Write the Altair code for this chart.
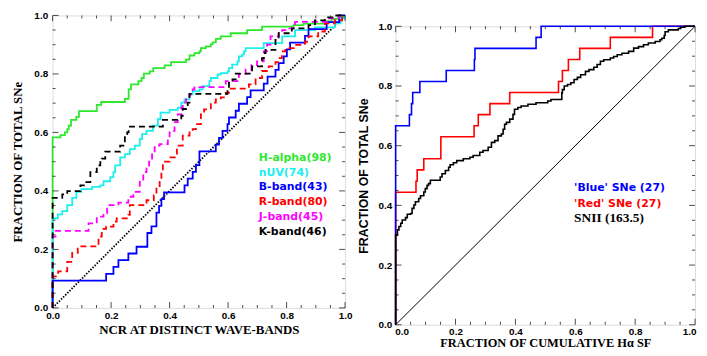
import altair as alt
import pandas as pd

# ---------------- data ----------------
# Left panel: cumulative distributions of NCR values
HALPHA_X = [0, 0, 0.027, 0.042, 0.050, 0.055, 0.063, 0.081, 0.090, 0.151, 0.166, 0.247, 0.260, 0.268,
            0.293, 0.304, 0.312, 0.332, 0.344, 0.383, 0.405, 0.456, 0.468, 0.485, 0.502, 0.507, 0.524,
            0.541, 0.547, 0.558, 0.575, 0.609, 0.665, 0.716, 0.824, 0.858, 0.931, 0.954, 0.976, 1.0]
HALPHA_Y = [0, 0.583, 0.591, 0.600, 0.611, 0.623, 0.643, 0.653, 0.673, 0.694, 0.704, 0.715, 0.747, 0.764,
            0.775, 0.786, 0.801, 0.809, 0.820, 0.829, 0.840, 0.849, 0.863, 0.871, 0.877, 0.888, 0.894,
            0.902, 0.908, 0.920, 0.928, 0.939, 0.950, 0.962, 0.967, 0.972, 0.980, 0.988, 0.995, 1.0]

NUV_X = [0, 0, 0.018, 0.033, 0.050, 0.067, 0.081, 0.098, 0.135, 0.163, 0.174, 0.197, 0.208, 0.214, 0.231,
         0.247, 0.264, 0.281, 0.298, 0.306, 0.321, 0.343, 0.360, 0.369, 0.400, 0.428, 0.440, 0.451, 0.468,
         0.479, 0.502, 0.513, 0.536, 0.541, 0.564, 0.575, 0.598, 0.603, 0.614, 0.632, 0.637, 0.648, 0.654,
         0.660, 0.722, 0.785, 0.829, 0.897, 0.965, 0.985, 1.0]
NUV_Y = [0, 0.306, 0.320, 0.331, 0.351, 0.376, 0.397, 0.406, 0.414, 0.419, 0.433, 0.447, 0.464, 0.487, 0.515,
         0.526, 0.543, 0.555, 0.577, 0.594, 0.605, 0.623, 0.645, 0.668, 0.677, 0.685, 0.702, 0.713, 0.730,
         0.741, 0.747, 0.758, 0.775, 0.786, 0.798, 0.803, 0.809, 0.820, 0.832, 0.843, 0.860, 0.866, 0.877,
         0.888, 0.905, 0.928, 0.950, 0.959, 0.973, 0.990, 1.0]

BBAND_X = [0, 0, 0.183, 0.208, 0.225, 0.259, 0.287, 0.324, 0.338, 0.355, 0.364, 0.372, 0.381, 0.451, 0.462,
           0.479, 0.490, 0.502, 0.558, 0.569, 0.581, 0.598, 0.603, 0.626, 0.637, 0.665, 0.677, 0.722, 0.735,
           0.762, 0.773, 0.790, 0.801, 0.812, 0.863, 0.875, 0.937, 0.980, 1.0]
BBAND_Y = [0, 0.093, 0.116, 0.140, 0.163, 0.186, 0.209, 0.256, 0.279, 0.326, 0.349, 0.372, 0.395, 0.419, 0.442,
           0.465, 0.488, 0.535, 0.558, 0.581, 0.605, 0.628, 0.651, 0.674, 0.698, 0.721, 0.744, 0.767, 0.791,
           0.814, 0.837, 0.860, 0.884, 0.907, 0.930, 0.953, 0.977, 1.0, 1.0]

RBAND_X = [0, 0, 0.019, 0.050, 0.067, 0.086, 0.157, 0.168, 0.183, 0.208, 0.219, 0.259, 0.264, 0.321, 0.346,
           0.355, 0.366, 0.372, 0.377, 0.400, 0.425, 0.445, 0.468, 0.479, 0.490, 0.507, 0.518, 0.541, 0.558,
           0.575, 0.592, 0.603, 0.671, 0.694, 0.716, 0.739, 0.762, 0.773, 0.784, 0.796, 0.829, 0.863, 0.875,
           0.908, 0.931, 0.965, 0.990, 1.0]
RBAND_Y = [0, 0.108, 0.125, 0.157, 0.188, 0.210, 0.244, 0.270, 0.278, 0.295, 0.306, 0.318, 0.351, 0.368, 0.385,
           0.408, 0.431, 0.464, 0.500, 0.515, 0.555, 0.589, 0.600, 0.611, 0.628, 0.662, 0.679, 0.702, 0.713,
           0.720, 0.735, 0.750, 0.764, 0.786, 0.810, 0.826, 0.840, 0.854, 0.877, 0.888, 0.899, 0.910, 0.928,
           0.945, 0.973, 0.983, 1.0, 1.0]

JBAND_X = [0, 0, 0.010, 0.123, 0.151, 0.174, 0.186, 0.225, 0.259, 0.276, 0.298, 0.310, 0.321, 0.330, 0.340,
           0.349, 0.366, 0.394, 0.400, 0.411, 0.417, 0.428, 0.440, 0.445, 0.456, 0.468, 0.479, 0.485, 0.592,
           0.637, 0.660, 0.680, 0.699, 0.722, 0.733, 0.745, 0.773, 0.785, 0.796, 0.829, 0.942, 0.980, 1.0]
JBAND_Y = [0, 0.244, 0.263, 0.289, 0.312, 0.323, 0.351, 0.360, 0.380, 0.397, 0.431, 0.464, 0.476, 0.500, 0.530,
           0.555, 0.560, 0.583, 0.600, 0.605, 0.635, 0.662, 0.685, 0.702, 0.713, 0.730, 0.747, 0.755, 0.775,
           0.800, 0.815, 0.830, 0.843, 0.877, 0.900, 0.928, 0.939, 0.950, 0.956, 0.978, 0.990, 1.0, 1.0]

KBAND_X = [0, 0, 0.033, 0.050, 0.095, 0.112, 0.129, 0.151, 0.163, 0.168, 0.180, 0.231, 0.247, 0.255, 0.260,
           0.377, 0.440, 0.445, 0.462, 0.468, 0.598, 0.603, 0.615, 0.626, 0.682, 0.716, 0.722, 0.728, 0.762,
           0.773, 0.818, 0.875, 0.897, 0.931, 0.970, 1.0]
KBAND_Y = [0, 0.376, 0.388, 0.399, 0.419, 0.430, 0.464, 0.487, 0.498, 0.510, 0.534, 0.555, 0.594, 0.600, 0.620,
           0.643, 0.657, 0.680, 0.702, 0.732, 0.749, 0.770, 0.781, 0.801, 0.826, 0.854, 0.871, 0.882, 0.916,
           0.939, 0.956, 0.967, 0.983, 0.993, 1.0, 1.0]

# Right panel: fraction of cumulative H-alpha SF
BLUE_X = [0, 0, 0.046, 0.053, 0.057, 0.081, 0.169, 0.263, 0.265, 0.469, 0.486, 1.0]
BLUE_Y = [0, 0.667, 0.704, 0.741, 0.778, 0.815, 0.852, 0.889, 0.926, 0.963, 1.0, 1.0]

RED_X = [0, 0, 0.068, 0.072, 0.094, 0.151, 0.262, 0.276, 0.315, 0.381, 0.544, 0.557, 0.577, 0.615, 0.717,
         0.858, 1.0]
RED_Y = [0, 0.444, 0.481, 0.519, 0.556, 0.630, 0.667, 0.704, 0.741, 0.778, 0.815, 0.852, 0.889, 0.926, 0.963,
         1.0, 1.0]

SNII_X = [0, 0, 0.006, 0.011, 0.017, 0.022, 0.033, 0.039, 0.050, 0.055, 0.061, 0.066, 0.077, 0.083, 0.094,
          0.099, 0.105, 0.110, 0.116, 0.149, 0.155, 0.166, 0.177, 0.182, 0.193, 0.204, 0.226, 0.248, 0.259,
          0.281, 0.292, 0.309, 0.320, 0.331, 0.342, 0.353, 0.359, 0.364, 0.370, 0.381, 0.392, 0.397, 0.408,
          0.419, 0.442, 0.469, 0.508, 0.519, 0.555, 0.557, 0.563, 0.574, 0.585, 0.596, 0.607, 0.618, 0.634,
          0.646, 0.662, 0.673, 0.684, 0.695, 0.717, 0.728, 0.740, 0.756, 0.778, 0.795, 0.811, 0.828, 0.844,
          0.867, 0.883, 0.889, 0.897, 0.900, 0.911, 0.944, 0.952, 0.966, 1.0]
SNII_Y = [0, 0.301, 0.318, 0.329, 0.340, 0.351, 0.359, 0.370, 0.373, 0.390, 0.401, 0.412, 0.423, 0.432, 0.445,
          0.456, 0.467, 0.473, 0.484, 0.495, 0.506, 0.517, 0.528, 0.536, 0.543, 0.550, 0.556, 0.561, 0.567,
          0.578, 0.584, 0.595, 0.611, 0.617, 0.633, 0.639, 0.655, 0.672, 0.678, 0.689, 0.705, 0.722, 0.728,
          0.733, 0.739, 0.744, 0.750, 0.755, 0.777, 0.788, 0.800, 0.805, 0.811, 0.822, 0.829, 0.838, 0.849,
          0.855, 0.863, 0.872, 0.883, 0.888, 0.894, 0.899, 0.905, 0.910, 0.916, 0.927, 0.932, 0.938, 0.944,
          0.949, 0.955, 0.960, 0.969, 0.982, 0.988, 0.993, 0.997, 1.0, 1.0]

DIAG = [0.0, 1.0]
TICK_MAJOR = [0.0, 0.2, 0.4, 0.6, 0.8, 1.0]
TICK_MINOR = [0.05, 0.10, 0.15, 0.25, 0.30, 0.35, 0.45, 0.50, 0.55, 0.65, 0.70, 0.75, 0.85, 0.90, 0.95]

LEFT_LABELS = ["H-alpha(98)", "nUV(74)", "B-band(43)", "R-band(80)", "J-band(45)", "K-band(46)"]
RIGHT_LABELS = ["'Blue' SNe (27)", "'Red' SNe (27)", "SNII (163.5)"]

# ---------------- styles ----------------
GREEN, CYAN, BLUE, RED, MAGENTA, BLACK = "#2ee82e", "#1eeeee", "#0000ff", "#ff0000", "#ff00ff", "#000000"
DASH = [6, 4]
SANS = "Liberation Sans"
SERIF = "Liberation Serif"
LEGEND_FONT = "DejaVu Sans"

SCALE = alt.Scale(domain=[0, 1], nice=False, zero=False)


def make_axis(title, tfont, tsize, lpad, tpad, flush=False):
    kw = dict(labelFlush=False)
    if flush:
        kw = dict(labelFlush=True, labelFlushOffset=1)
    return alt.Axis(title=title, values=TICK_MAJOR, format=".1f", ticks=False, domain=False, grid=False,
                    labelFont=SANS, labelFontSize=10, labelFontWeight="bold", labelColor="black",
                    labelPadding=lpad, labelOverlap=False,
                    titleFont=tfont, titleFontSize=tsize, titleFontWeight="bold", titleColor="black",
                    titlePadding=tpad, **kw)


def step_line(xs, ys, color, width, dash=None):
    df = pd.DataFrame({"x": xs, "y": ys, "i": list(range(len(xs)))})
    kw = dict(interpolate="step-after", color=color, strokeWidth=width)
    if dash:
        kw["strokeDash"] = dash
    return alt.Chart(df).mark_line(**kw).encode(
        x=alt.X("x:Q", scale=SCALE),
        y=alt.Y("y:Q", scale=SCALE),
        order="i:Q",
    )


def frame_ticks():
    layers = []
    for vals, L in ((TICK_MAJOR, 6), (TICK_MINOR, 3)):
        base = alt.Chart(pd.DataFrame({"t": vals}))
        layers.append(base.mark_tick(orient="vertical", size=L, thickness=1, color="black", yOffset=-L / 2)
                      .encode(x=alt.X("t:Q", scale=SCALE), y=alt.YDatum(0)))
        layers.append(base.mark_tick(orient="vertical", size=L, thickness=1, color="black", yOffset=L / 2)
                      .encode(x=alt.X("t:Q", scale=SCALE), y=alt.YDatum(1)))
        layers.append(base.mark_tick(orient="horizontal", size=L, thickness=1, color="black", xOffset=L / 2)
                      .encode(y=alt.Y("t:Q", scale=SCALE), x=alt.XDatum(0)))
        layers.append(base.mark_tick(orient="horizontal", size=L, thickness=1, color="black", xOffset=-L / 2)
                      .encode(y=alt.Y("t:Q", scale=SCALE), x=alt.XDatum(1)))
    return layers


def label(text, color, px, py, font=LEGEND_FONT, size=11):
    return alt.Chart(pd.DataFrame({"s": [text]})).mark_text(
        align="left", baseline="middle", font=font, fontSize=size, fontWeight="bold", color=color
    ).encode(x=alt.value(px), y=alt.value(py), text="s:N")


def diag(dash, width, xaxis, yaxis):
    kw = dict(color="black", strokeWidth=width)
    if dash:
        kw["strokeDash"] = dash
    df = pd.DataFrame({"x": DIAG, "y": DIAG})
    return alt.Chart(df).mark_line(**kw).encode(
        x=alt.X("x:Q", scale=SCALE, axis=xaxis), y=alt.Y("y:Q", scale=SCALE, axis=yaxis))


# ---------------- left panel ----------------
left_diag = diag([1.5, 1.5], 1.8,
                 make_axis("NCR AT DISTINCT WAVE-BANDS", SERIF, 13, 3, 3),
                 make_axis("FRACTION OF TOTAL SNe", SERIF, 13, 5, 9))
left_lines = [
    step_line(HALPHA_X, HALPHA_Y, GREEN, 1.8),
    step_line(NUV_X, NUV_Y, CYAN, 1.8),
    step_line(BBAND_X, BBAND_Y, BLUE, 1.8),
    step_line(RBAND_X, RBAND_Y, RED, 1.8, DASH),
    step_line(JBAND_X, JBAND_Y, MAGENTA, 1.8, DASH),
    step_line(KBAND_X, KBAND_Y, BLACK, 1.8, DASH),
]
left_colors = [GREEN, CYAN, BLUE, RED, MAGENTA, BLACK]
left_text = [label(t, c, 208, 143.5 + 15 * k) for k, (t, c) in enumerate(zip(LEFT_LABELS, left_colors))]
left = alt.layer(left_diag, *left_lines, *frame_ticks(), *left_text).properties(width=295, height=295)

# ---------------- right panel ----------------
right_diag = diag(None, 1.0,
                  make_axis("FRACTION OF CUMULATIVE H\u03b1 SF", SERIF, 12.5, 2, 0, flush=True),
                  make_axis("FRACTION OF TOTAL SNe", SANS, 12.5, 4, 7))
right_lines = [
    step_line(RED_X, RED_Y, RED, 1.6),
    step_line(BLUE_X, BLUE_Y, BLUE, 1.6),
    step_line(SNII_X, SNII_Y, BLACK, 1.6),
]
right_text = [
    label(RIGHT_LABELS[0], BLUE, 180, 163.5),
    label(RIGHT_LABELS[1], RED, 180, 178.8),
    label(RIGHT_LABELS[2], BLACK, 180, 193.3, font=SERIF, size=13.5),
]
right = alt.layer(right_diag, *right_lines, *frame_ticks(), *right_text).properties(width=302, height=301)

# empty strip that lowers the right panel a little relative to the left one
spacer = alt.Chart(pd.DataFrame({"a": [0]})).mark_point(opacity=0, size=1).encode(
    x=alt.value(150), y=alt.value(2)
).properties(width=302, height=4, view=alt.ViewBackground(stroke="transparent"))

chart = alt.hconcat(left, alt.vconcat(spacer, right, spacing=0), spacing=4).properties(
    padding={"left": 3, "top": 0, "right": 0, "bottom": 0}
).configure_view(stroke="black", strokeWidth=1.6).configure(background="white")

chart.save("out.html", embed_options={"renderer": "svg", "actions": False})
